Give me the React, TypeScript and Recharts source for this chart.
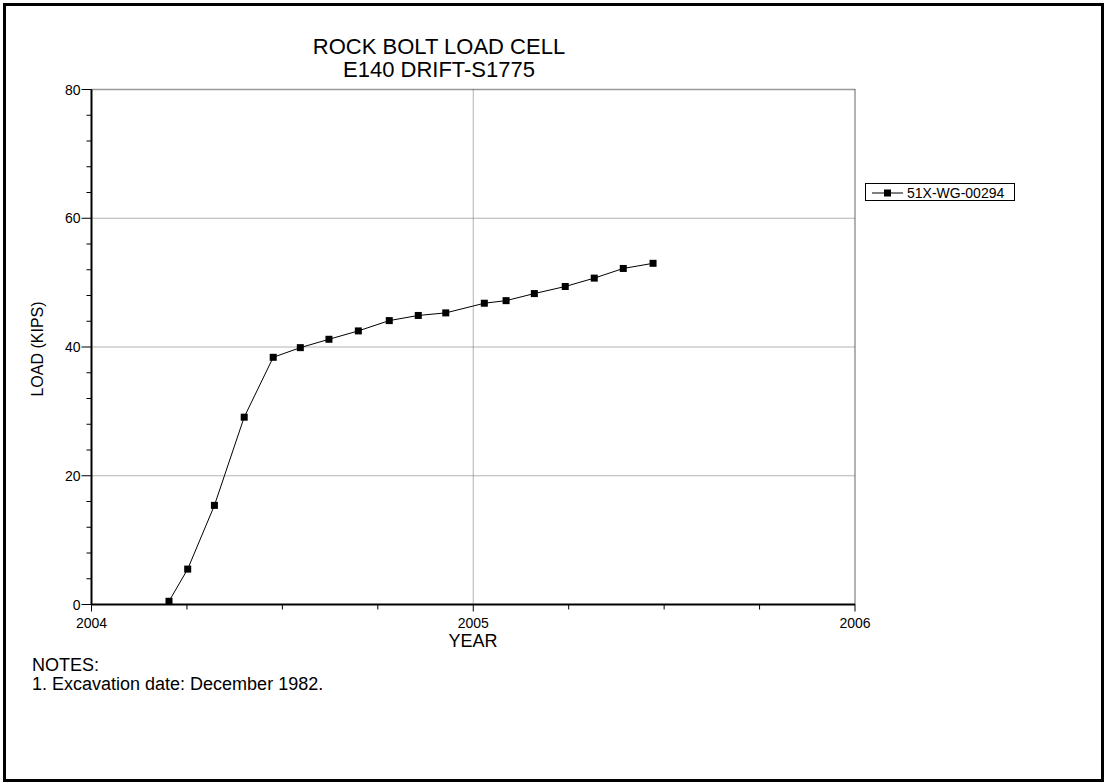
import { LineChart, Line, XAxis, YAxis, ReferenceLine } from 'recharts';

// load cell readings: decimal year vs load (kips)
const years = [
  2004.203, 2004.252, 2004.322, 2004.4, 2004.476, 2004.547, 2004.622, 2004.699, 2004.78,
  2004.856, 2004.928, 2005.029, 2005.086, 2005.16, 2005.241, 2005.317, 2005.393, 2005.471,
];
const loads = [
  0.5, 5.5, 15.4, 29.1, 38.4, 39.9, 41.2, 42.5, 44.1, 44.9, 45.3, 46.8, 47.2, 48.3, 49.4, 50.7,
  52.2, 53.0,
];
const xTicks = [2004, 2004.25, 2004.5, 2004.75, 2005, 2005.25, 2005.5, 2005.75, 2006];
const yTicks = [0, 4, 8, 12, 16, 20, 24, 28, 32, 36, 40, 44, 48, 52, 56, 60, 64, 68, 72, 76, 80];
const yGrid = [20, 40, 60];
const seriesName = '51X-WG-00294';

const FONT = 'Arial, "Liberation Sans", sans-serif';
const W = 1105;
const H = 783;

const data = years.map((t, i) => ({ t, load: loads[i] }));

function YTick(props: any) {
  const { x, y, payload } = props;
  const major = payload.value % 20 === 0;
  const len = major ? 10 : 5;
  return (
    <g>
      <line x1={x - len} x2={x} y1={y} y2={y} stroke="#000" strokeWidth={1} />
      {major && (
        <text x={x - len - 1} y={y + 5} textAnchor="end" fontSize={14} fontFamily={FONT} fill="#000">
          {payload.value}
        </text>
      )}
    </g>
  );
}

function XTick(props: any) {
  const { x, y, payload } = props;
  const major = Number.isInteger(payload.value);
  const len = major ? 7 : 5;
  return (
    <g>
      <line x1={x} x2={x} y1={y} y2={y + len} stroke="#000" strokeWidth={1} />
      {major && (
        <text x={x} y={y + 23} textAnchor="middle" fontSize={14} fontFamily={FONT} fill="#000">
          {payload.value}
        </text>
      )}
    </g>
  );
}

function SquareDot(props: any) {
  const { cx, cy, index } = props;
  return <rect key={index} x={cx - 3.5} y={cy - 3.5} width={7} height={7} fill="#000" />;
}

export default function App() {
  return (
    <div style={{ position: 'absolute', left: 0, top: 0, width: W, height: H, background: '#fff' }}>
      <LineChart
        width={W}
        height={H}
        data={data}
        margin={{ top: 89.5, right: 250, bottom: 0, left: 0 }}
      >
        <XAxis
          dataKey="t"
          type="number"
          domain={[2004, 2006]}
          ticks={xTicks}
          interval={0}
          height={178.5}
          tickSize={0}
          tickMargin={0}
          tickLine={false}
          tick={<XTick />}
          axisLine={{ stroke: '#000', strokeWidth: 2 }}
        />
        <YAxis
          type="number"
          domain={[0, 80]}
          ticks={yTicks}
          interval={0}
          width={91.5}
          tickSize={0}
          tickMargin={0}
          tickLine={false}
          tick={<YTick />}
          axisLine={{ stroke: '#000', strokeWidth: 2 }}
        />
        {/* dotted grid */}
        {yGrid.map((v) => (
          <ReferenceLine key={v} y={v} stroke="#666" strokeDasharray="1 1" />
        ))}
        <ReferenceLine x={2005} stroke="#666" strokeDasharray="1 1" />
        {/* top / right frame */}
        <ReferenceLine y={80} stroke="#333" strokeWidth={1.5} strokeDasharray="1 1" />
        <ReferenceLine x={2006} stroke="#333" strokeWidth={1.5} strokeDasharray="1 1" />
        <Line
          dataKey="load"
          name={seriesName}
          type="linear"
          stroke="#000"
          strokeWidth={1}
          dot={<SquareDot />}
          isAnimationActive={false}
        />
      </LineChart>

      <svg
        width={W}
        height={H}
        style={{ position: 'absolute', left: 0, top: 0, pointerEvents: 'none' }}
        fontFamily={FONT}
      >
        <rect x={4.5} y={4.5} width={1098} height={776} fill="none" stroke="#000" strokeWidth={3} />
        <text x={439} y={54} textAnchor="middle" fontSize={22}>ROCK BOLT LOAD CELL</text>
        <text x={439} y={77} textAnchor="middle" fontSize={22}>E140 DRIFT-S1775</text>
        <text x={473} y={647} textAnchor="middle" fontSize={18}>YEAR</text>
        <text
          x={0}
          y={0}
          textAnchor="middle"
          fontSize={16}
          transform="translate(43 349) rotate(-90)"
        >
          LOAD (KIPS)
        </text>
        <text x={32} y={671} fontSize={18}>NOTES:</text>
        <text x={32} y={690} fontSize={18}>1. Excavation date: December 1982.</text>

        <rect x={865.5} y={183.5} width={149} height={17} fill="#fff" stroke="#000" strokeWidth={1} />
        <line x1={872} x2={903} y1={193} y2={193} stroke="#000" strokeWidth={1} />
        <rect x={884} y={189.5} width={7} height={7} fill="#000" />
        <text x={907} y={198} fontSize={14}>{seriesName}</text>
      </svg>
    </div>
  );
}
